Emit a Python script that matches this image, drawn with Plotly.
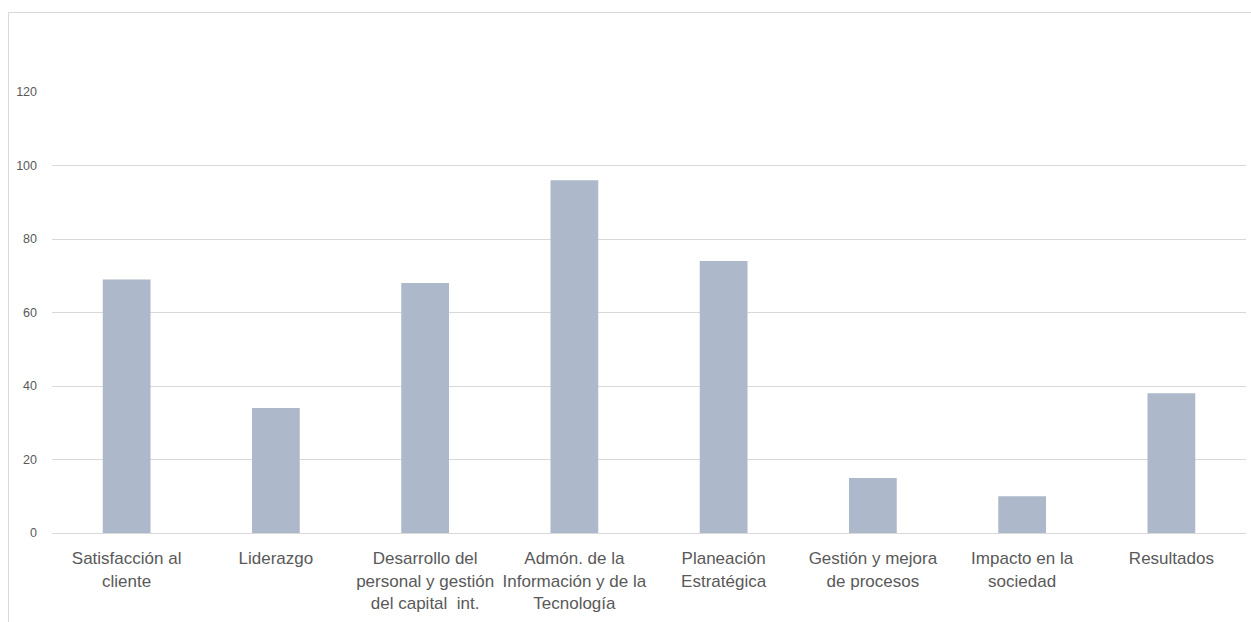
import plotly.graph_objects as go

categories = [
    "Satisfacción al<br>cliente",
    "Liderazgo",
    "Desarrollo del<br>personal y gestión<br>del capital  int.",
    "Admón. de la<br>Información y de la<br>Tecnología",
    "Planeación<br>Estratégica",
    "Gestión y mejora<br>de procesos",
    "Impacto en la<br>sociedad",
    "Resultados",
]
values = [69, 34, 68, 96, 74, 15, 10, 38]
y_ticks = [0, 20, 40, 60, 80, 100, 120]

W, H = 1251, 622
L, R, T, B = 52, 5, 92, 89
pw = W - L - R
ph = H - T - B

fig = go.Figure(go.Bar(x=categories, y=values, marker_color="#ADB9CA",
                       marker_line_width=0, hoverinfo="x+y"))

fig.update_layout(
    width=W, height=H,
    margin=dict(l=L, r=R, t=T, b=B, autoexpand=False),
    paper_bgcolor="white", plot_bgcolor="white",
    bargap=0.68,
    showlegend=False,
    font=dict(family="Liberation Sans, Arial, sans-serif", color="#595959"),
    xaxis=dict(showline=True, linecolor="#D9D9D9", linewidth=1, ticks="",
               tickangle=0, automargin=False, ticklabelstandoff=10,
               tickfont=dict(size=17, color="#595959"), showgrid=False),
    yaxis=dict(range=[0, 120], tickvals=y_ticks, showgrid=True, gridcolor="#D9D9D9",
               gridwidth=1, zeroline=False, showline=False, ticks="", automargin=False,
               tickfont=dict(size=12.5, color="#595959"),
               ticklabelstandoff=14),
    shapes=[dict(type="rect", xref="paper", yref="paper",
                 x0=(8.5 - L) / pw, x1=(W + 20 - L) / pw,
                 y0=(H - B - (H + 20)) / ph, y1=(H - B - 12.5) / ph,
                 line=dict(color="#D9D9D9", width=1), fillcolor="rgba(0,0,0,0)", layer="below")],
)

fig.write_html("out.html")
